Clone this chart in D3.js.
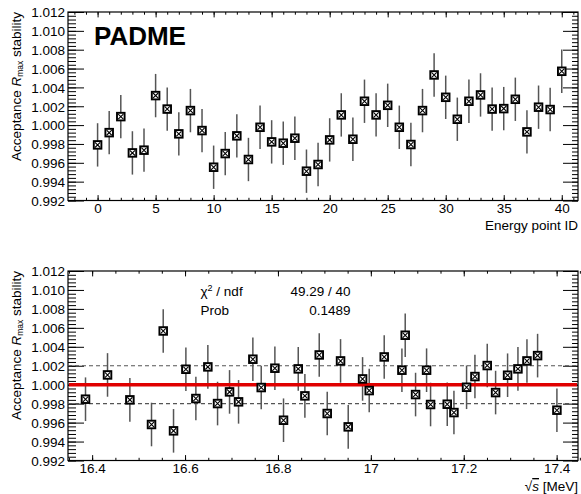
<!DOCTYPE html>
<html>
<head>
<meta charset="utf-8">
<script src="https://cdn.jsdelivr.net/npm/d3@7"></script>
<style>
  body { margin: 0; background: #fff; }
  svg { display: block; }
  text { font-family: "Liberation Sans", Arial, Helvetica, sans-serif; }
  .axis path, .axis line { stroke: #000; }
  .axis text { font-size: 13.5px; fill: #000; }
</style>
</head>
<body>
<div id="chart"></div>
<script>
// top panel: acceptance stability vs energy point ID
var pointId = [0, 1, 2, 3, 4, 5, 6, 7, 8, 9, 10, 11, 12, 13, 14, 15, 16, 17, 18, 19, 20,
  21, 22, 23, 24, 25, 26, 27, 28, 29, 30, 31, 32, 33, 34, 35, 36, 37, 38, 39, 40];
var accById = [0.9979, 0.9992, 1.0009, 0.99705, 0.99734, 1.00313, 1.0017, 0.99907, 1.00154, 0.99942,
  0.99553, 0.99698, 0.99886, 0.99635, 0.99977, 0.99822, 0.99808, 0.99861, 0.99511, 0.99582,
  0.99843, 1.00108, 0.9985, 1.00253, 1.00108, 1.0021, 0.99977, 0.99794, 1.00154, 1.00532,
  1.00295, 1.00062, 1.00253, 1.0032, 1.0017, 1.00175, 1.00274, 0.99928, 1.0019, 1.00165, 1.00571];
var errById = [0.0023, 0.0023, 0.0023, 0.0023, 0.0023, 0.0023, 0.0023, 0.0023, 0.0023, 0.0023,
  0.0023, 0.0023, 0.0023, 0.0023, 0.0023, 0.0023, 0.0023, 0.0023, 0.0023, 0.0023,
  0.0023, 0.0023, 0.0023, 0.0023, 0.0023, 0.0023, 0.0023, 0.0023, 0.0023, 0.0023,
  0.0023, 0.0023, 0.0023, 0.0023, 0.0023, 0.0023, 0.0023, 0.0023, 0.0023, 0.0023, 0.0023];

// bottom panel: same quantity vs sqrt(s)
var sqrtS = [16.3857, 16.4331, 16.4812, 16.5278, 16.553, 16.5752, 16.6018, 16.6233, 16.6491, 16.67,
  16.6958, 16.7152, 16.746, 16.764, 16.7934, 16.812, 16.8437, 16.858, 16.8889, 16.9061,
  16.9348, 16.9513, 16.9822, 16.9965, 17.0288, 17.0669, 17.074, 17.0963, 17.12, 17.1286,
  17.1645, 17.1789, 17.2061, 17.2241, 17.2506, 17.2686, 17.2944, 17.3167, 17.3361, 17.359, 17.4006];
var accByE = [0.99847, 1.00103, 0.9984, 0.9958, 1.00567, 0.99513, 1.00163, 0.99854, 1.00188, 0.99801,
  0.99924, 0.99819, 1.00269, 0.9997, 1.00174, 0.99625, 1.00167, 0.99882, 1.00314, 0.99696,
  1.00251, 0.99555, 1.00061, 0.99938, 1.00293, 1.00153, 1.00522, 0.99896, 1.00153, 0.99791,
  0.99794, 0.99706, 0.99973, 1.00086, 1.00202, 0.99917, 1.001, 1.00167, 1.00251, 1.00307, 0.99731];
var errByE = [0.0023, 0.0023, 0.0023, 0.0023, 0.0023, 0.0023, 0.0023, 0.0023, 0.0023, 0.0023,
  0.0023, 0.0023, 0.0023, 0.0023, 0.0023, 0.0023, 0.0023, 0.0023, 0.0023, 0.0023,
  0.0023, 0.0023, 0.0023, 0.0023, 0.0023, 0.0023, 0.0023, 0.0023, 0.0023, 0.0023,
  0.0023, 0.0023, 0.0023, 0.0023, 0.0023, 0.0023, 0.0023, 0.0023, 0.0023, 0.0023, 0.0023];

var fitConst = 1.0000;
var bandHalf = 0.002;
var chi2Label = "49.29 / 40";
var probLabel = "0.1489";

var yTicks = [0.992, 0.994, 0.996, 0.998, 1.000, 1.002, 1.004, 1.006, 1.008, 1.010, 1.012];
var idTicks = [0, 5, 10, 15, 20, 25, 30, 35, 40];
var eTicks = [16.4, 16.6, 16.8, 17, 17.2, 17.4];

var W = 581, H = 494;
var left = 68, right = 578;

var svg = d3.select("#chart").append("svg")
  .attr("width", W).attr("height", H);
svg.append("rect").attr("width", W).attr("height", H).attr("fill", "#fff");

function range(a, b, step) {
  var out = [];
  for (var v = a; v <= b + step * 1e-6; v += step) out.push(+v.toFixed(6));
  return out;
}

function drawPanel(cfg) {
  var x = d3.scaleLinear().domain(cfg.xDomain).range([left, right]);
  var y = d3.scaleLinear().domain([0.992, 1.012]).range([cfg.bottom, cfg.top]);
  var g = svg.append("g");
  var w = right - left, h = cfg.bottom - cfg.top;

  // minor ticks
  g.append("g").attr("class", "axis").attr("transform", "translate(0," + cfg.bottom + ")")
    .call(d3.axisBottom(x).tickValues(cfg.xMinor).tickSize(-2.7).tickFormat(""));
  g.append("g").attr("class", "axis").attr("transform", "translate(0," + cfg.top + ")")
    .call(d3.axisTop(x).tickValues(cfg.xMinor).tickSize(-2.7).tickFormat(""));
  g.append("g").attr("class", "axis").attr("transform", "translate(" + left + ",0)")
    .call(d3.axisLeft(y).tickValues(range(0.992, 1.012, 0.0004)).tickSize(-8).tickFormat(""));
  g.append("g").attr("class", "axis").attr("transform", "translate(" + right + ",0)")
    .call(d3.axisRight(y).tickValues(range(0.992, 1.012, 0.0004)).tickSize(-6).tickFormat(""));

  // major ticks
  var xa = g.append("g").attr("class", "axis").attr("transform", "translate(0," + cfg.bottom + ")")
    .call(d3.axisBottom(x).tickValues(cfg.xTicks).tickSize(-5.4).tickPadding(0)
      .tickFormat(d3.format("")));
  g.append("g").attr("class", "axis").attr("transform", "translate(0," + cfg.top + ")")
    .call(d3.axisTop(x).tickValues(cfg.xTicks).tickSize(-5.4).tickFormat(""));
  var ya = g.append("g").attr("class", "axis").attr("transform", "translate(" + left + ",0)")
    .call(d3.axisLeft(y).tickValues(yTicks).tickSize(-16).tickPadding(3)
      .tickFormat(d3.format(".3f")));
  g.append("g").attr("class", "axis").attr("transform", "translate(" + right + ",0)")
    .call(d3.axisRight(y).tickValues(yTicks).tickSize(-15).tickFormat(""));

  g.selectAll(".axis .domain").remove();
  g.selectAll(".axis line").attr("stroke-width", 1);
  ya.selectAll("text").attr("dy", "0.36em");
  xa.selectAll("text").attr("dy", "0.95em");

  // frame
  g.append("rect").attr("x", left).attr("y", cfg.top).attr("width", w).attr("height", h)
    .attr("fill", "none").attr("stroke", "#000").attr("stroke-width", 1.2);

  if (cfg.extra) cfg.extra(g, x, y);

  // error bars + markers
  var pts = cfg.xs.map(function(d, i) { return { x: d, v: cfg.vs[i], e: cfg.es[i] }; });
  g.selectAll(".err").data(pts).enter().append("line")
    .attr("x1", function(d) { return x(d.x); }).attr("x2", function(d) { return x(d.x); })
    .attr("y1", function(d) { return y(d.v - d.e); }).attr("y2", function(d) { return y(d.v + d.e); })
    .attr("stroke", "#555").attr("stroke-width", 1.5);

  if (cfg.fit) cfg.fit(g, x, y);

  var m = g.selectAll(".mk").data(pts).enter().append("g")
    .attr("transform", function(d) { return "translate(" + x(d.x) + "," + y(d.v) + ")"; });
  m.append("rect").attr("x", -3.8).attr("y", -3.8).attr("width", 7.6).attr("height", 7.6)
    .attr("fill", "#fff").attr("stroke", "#000").attr("stroke-width", 1.9);
  m.append("path").attr("d", "M-2.6,-2.6L2.6,2.6M-2.6,2.6L2.6,-2.6")
    .attr("stroke", "#000").attr("stroke-width", 1.1);

  // y title
  var yt = g.append("text").attr("transform", "translate(20.5," + cfg.top + ") rotate(-90)")
    .attr("text-anchor", "end").attr("font-size", "13.5px");
  yt.append("tspan").text("Acceptance ");
  yt.append("tspan").attr("font-style", "italic").text("R");
  yt.append("tspan").attr("font-size", "8.5px").attr("dy", 2.5).text("max");
  yt.append("tspan").attr("dy", -2.5).text(" stability");

  return { x: x, y: y, g: g };
}

// top panel
var p1 = drawPanel({
  top: 12, bottom: 200.5,
  xDomain: [-2.55, 41.4],
  xTicks: idTicks, xMinor: range(-2, 41, 1),
  xs: pointId, vs: accById, es: errById
});
p1.g.append("text").attr("x", 94).attr("y", 45).attr("font-size", "26px")
  .attr("font-weight", "bold").text("PADME");
p1.g.append("text").attr("x", right).attr("y", 230).attr("text-anchor", "end")
  .attr("font-size", "13.5px").text("Energy point ID");

// bottom panel
var p2 = drawPanel({
  top: 271, bottom: 460.5,
  xDomain: [16.348, 17.446],
  xTicks: eTicks, xMinor: range(16.35, 17.45, 0.05),
  xs: sqrtS, vs: accByE, es: errByE,
  extra: function(g, x, y) {
    [fitConst - bandHalf, fitConst + bandHalf].forEach(function(v) {
      g.append("line").attr("x1", left).attr("x2", right)
        .attr("y1", y(v)).attr("y2", y(v))
        .attr("stroke", "#555").attr("stroke-width", 1.2).attr("stroke-dasharray", "4,3");
    });
  },
  fit: function(g, x, y) {
    g.append("line").attr("x1", left + 1).attr("x2", right - 1)
      .attr("y1", y(fitConst)).attr("y2", y(fitConst))
      .attr("stroke", "#e00000").attr("stroke-width", 3.5);
  }
});

var st = p2.g.append("g").attr("font-size", "13.5px");
var c2 = st.append("text").attr("x", 200.5).attr("y", 296);
c2.append("tspan").text("χ");
c2.append("tspan").attr("font-size", "9px").attr("dy", -5).text("2");
c2.append("tspan").attr("dy", 5).text(" / ndf");
st.append("text").attr("x", 200.5).attr("y", 315).text("Prob");
st.append("text").attr("x", 350.5).attr("y", 296).attr("text-anchor", "end").text(chi2Label);
st.append("text").attr("x", 350.5).attr("y", 315).attr("text-anchor", "end").text(probLabel);

var xt = p2.g.append("text").attr("x", right).attr("y", 491).attr("text-anchor", "end")
  .attr("font-size", "13.5px");
xt.append("tspan").text("√");
xt.append("tspan").attr("font-style", "italic").attr("text-decoration", "overline").text("s");
xt.append("tspan").text(" [MeV]");
</script>
</body>
</html>
